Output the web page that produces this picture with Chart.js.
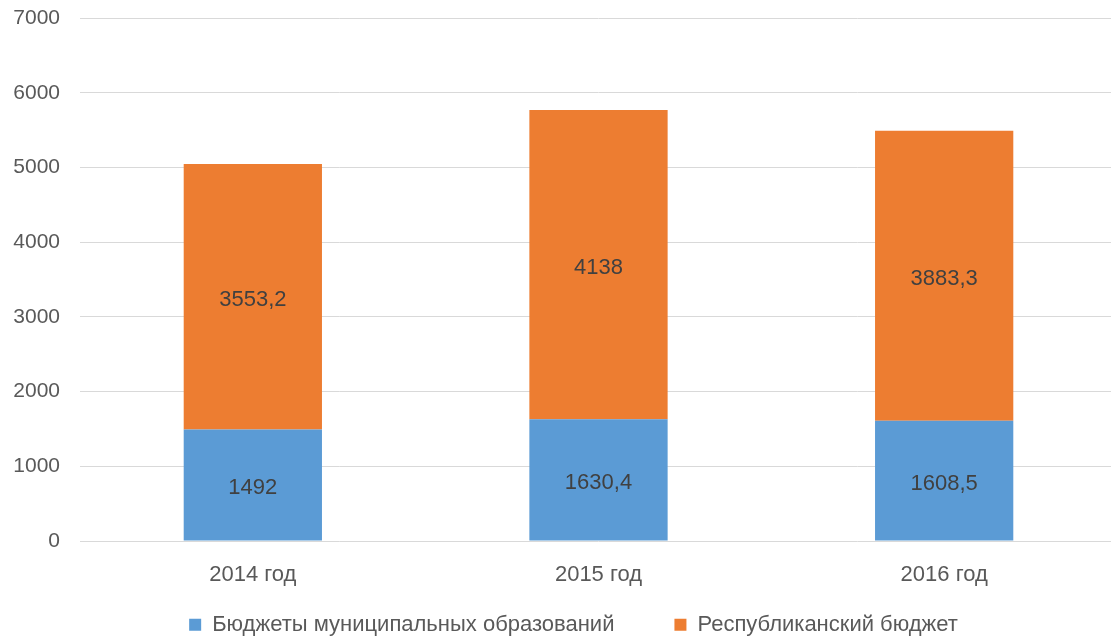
<!DOCTYPE html>
<html>
<head>
<meta charset="utf-8">
<script src="https://cdn.jsdelivr.net/npm/chart.js@4.4.1/dist/chart.umd.min.js"></script>
<style>
  html, body { margin: 0; padding: 0; background: #ffffff; overflow: hidden; }
  #outer { width: 1111px; height: 637px; overflow: hidden; position: relative; }
  #wrap { width: 1117px; height: 637px; position: absolute; left: 0; top: 0; }
</style>
</head>
<body>
<div id="outer"><div id="wrap"><canvas id="c"></canvas></div></div>
<script>
const categories = ['2014 год', '2015 год', '2016 год'];
const municipalValues = [1492, 1630.4, 1608.5];
const republicValues = [3553.2, 4138, 3883.3];
const seriesNames = ['Бюджеты муниципальных образований', 'Республиканский бюджет'];
const yTickStep = 1000;
const yMax = 7000;

const FONT = '"Liberation Sans", Arial, sans-serif';
const LEGEND_PAD = 60;
const LEGEND_FONT = 22;

const valueLabels = {
  id: 'valueLabels',
  afterDatasetsDraw(chart) {
    const ctx = chart.ctx;
    ctx.save();
    ctx.font = '22px ' + FONT;
    ctx.fillStyle = '#404040';
    ctx.textAlign = 'center';
    ctx.textBaseline = 'middle';
    chart.data.datasets.forEach((ds, di) => {
      const meta = chart.getDatasetMeta(di);
      meta.data.forEach((bar, i) => {
        const txt = String(ds.data[i]).replace('.', ',');
        ctx.fillText(txt, bar.x, (bar.y + bar.base) / 2 + 3);
      });
    });
    ctx.restore();
  }
};

const legendPlacer = {
  id: 'legendPlacer',
  afterLayout(chart) {
    const lg = chart.legend;
    if (!lg) return;
    const itemH = LEGEND_FONT * 1.2;
    lg.top = 627 - LEGEND_PAD - itemH / 2;
    lg.left += 30;
  }
};

new Chart(document.getElementById('c'), {
  type: 'bar',
  data: {
    labels: categories,
    datasets: [
      { label: seriesNames[0], data: municipalValues, backgroundColor: '#5B9BD5', borderWidth: 0 },
      { label: seriesNames[1], data: republicValues, backgroundColor: '#ED7D31', borderWidth: 0 }
    ]
  },
  options: {
    responsive: true,
    maintainAspectRatio: false,
    animation: false,
    layout: { padding: { top: 18, right: 0, bottom: 0, left: 0 } },
    datasets: { bar: { categoryPercentage: 1.0, barPercentage: 0.4 } },
    scales: {
      x: {
        stacked: true,
        afterFit(scale) { scale.height = 46; },
        grid: { display: false, drawTicks: false },
        border: { display: false },
        ticks: { color: '#595959', font: { family: FONT, size: 22 }, padding: 21, maxRotation: 0 }
      },
      y: {
        stacked: true,
        min: 0, max: yMax,
        afterFit(scale) { scale.width = 80; scale.paddingTop = 0; scale.paddingBottom = 0; },
        grid: { color: '#d9d9d9', lineWidth: 1, drawTicks: false },
        border: { display: false },
        ticks: { stepSize: yTickStep, color: '#595959', font: { family: FONT, size: 21 }, padding: 20,
                 callback: (v) => String(v) }
      }
    },
    plugins: {
      legend: {
        position: 'bottom',
        maxHeight: 50,
        labels: {
          color: '#595959',
          font: { family: FONT, size: LEGEND_FONT },
          boxWidth: 12, boxHeight: 12,
          padding: LEGEND_PAD
        }
      },
      tooltip: { enabled: false }
    }
  },
  plugins: [valueLabels, legendPlacer]
});
</script>
</body>
</html>
